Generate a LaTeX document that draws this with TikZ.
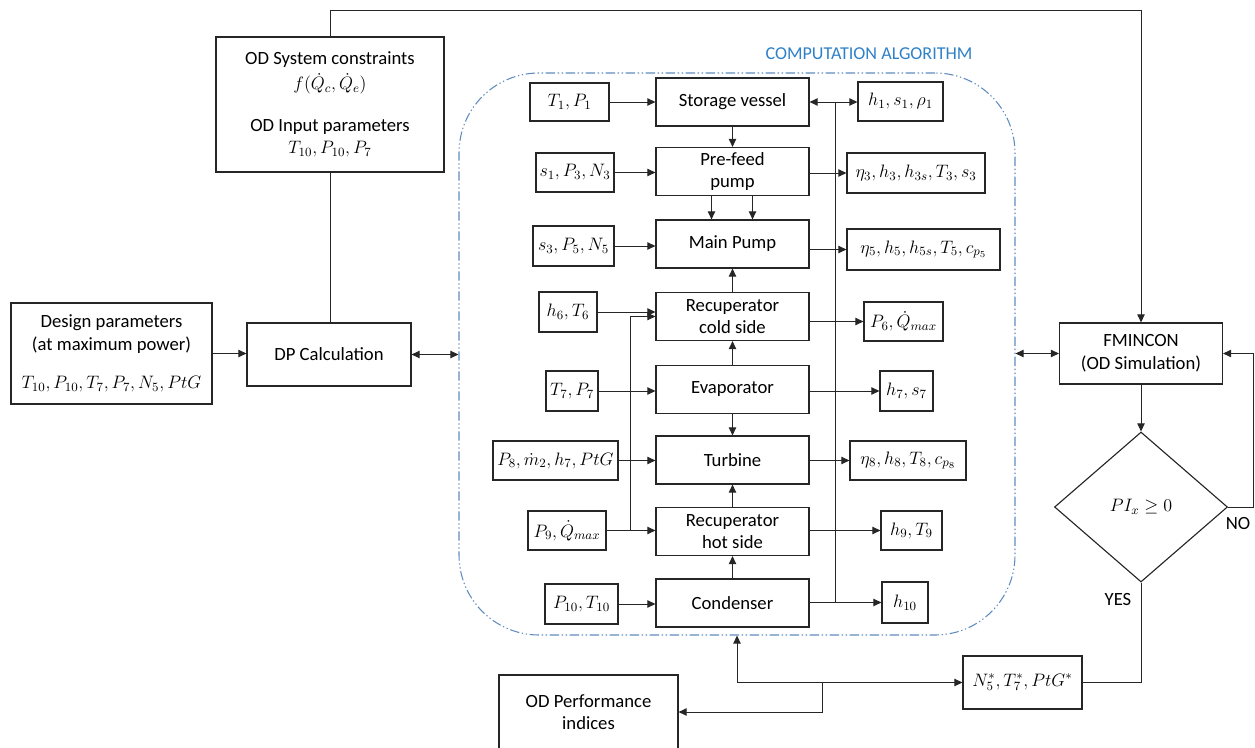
\RequirePackage{fix-cm}
\documentclass[tikz,border=0pt]{standalone}
\usepackage{fontspec}
\setmainfont{Carlito}
\usetikzlibrary{arrows.meta,shapes.geometric,calc}
\definecolor{algblue}{RGB}{46,128,200}
\definecolor{algline}{RGB}{95,140,190}
\definecolor{ink}{RGB}{38,38,38}
\newcommand{\mathsz}{\fontsize{13.5}{15}\selectfont}
\begin{document}
\begin{tikzpicture}[x=0.75pt,y=-0.75pt,
  font=\fontsize{14}{17}\selectfont,
  >={Triangle[length=6pt,width=5.5pt]},
  blk/.style={draw=ink, line width=0.85pt, align=center, inner sep=1pt},
  mbox/.style={blk, font=\mathsz},
  wd/.style={minimum width=#1*0.75pt},
  ht/.style={minimum height=#1*0.75pt},
  conn/.style={draw=ink, line width=0.7pt},
  stage/.style={blk, wd=153, ht=48},
]
\useasboundingbox (0,0) rectangle (1255,748);

% outer blocks
\node[blk, wd=228, ht=135] (od) at (330,104.5)
  {OD System constraints\\[2pt] {\mathsz$f(\dot{Q}_c,\dot{Q}_e)$}\\[14pt]
   OD Input parameters\\[0pt] {\mathsz$T_{10},P_{10},P_7$}};
\node[blk, wd=201, ht=101] (design) at (111.5,353.5)
  {Design parameters\\(at maximum power)\\[12pt] {\mathsz$T_{10},P_{10},T_7,P_7,N_5,PtG$}};
\node[blk, wd=164, ht=63] (dp) at (329,354.5) {DP Calculation};
\node[blk, wd=163, ht=61] (fm) at (1141,353.5) {FMINCON\\(OD Simulation)};
\node[mbox, shape=diamond, wd=173, ht=150, inner sep=0pt] (dia) at (1141,507) {$PI_x\geq 0$};
\node[mbox, wd=119, ht=53] (ns) at (1022.5,682.5) {$N_5^{*},T_7^{*},PtG^{*}$};
\node[blk, wd=179, ht=74] (perf) at (588.5,712) {OD Performance\\indices};

% computation algorithm frame
\node[draw=algline, line width=0.8pt, rounded corners=60pt,
  dash pattern=on 7pt off 2pt on 1pt off 2pt on 1pt off 2pt,
  wd=556, ht=562] (alg) at (737,354) {};
\node[text=algblue, font=\fontsize{13.6}{15}\selectfont] (title) at (869,54) {COMPUTATION ALGORITHM};

% component stages
\node[stage] (sv) at (732.5,102) {Storage vessel};
\node[stage] (pf) at (732.5,171.5) {Pre-feed\\pump};
\node[stage] (mp) at (732.5,244) {Main Pump};
\node[stage] (rc) at (732.5,316.5) {Recuperator\\cold side};
\node[stage] (ev) at (732.5,389.5) {Evaporator};
\node[stage] (tb) at (732.5,460) {Turbine};
\node[stage] (rh) at (732.5,531.5) {Recuperator\\hot side};
\node[stage] (cd) at (732.5,603) {Condenser};

% stage inputs
\node[mbox, wd=79, ht=38] (i1) at (569.5,102) {$T_1,P_1$};
\node[mbox, wd=78, ht=39] (i2) at (575,172.5) {$s_1,P_3,N_3$};
\node[mbox, wd=81, ht=40] (i3) at (573.5,246) {$s_3,P_5,N_5$};
\node[mbox, wd=58, ht=40] (i4) at (568,312) {$h_6,T_6$};
\node[mbox, wd=52, ht=40] (i5) at (572,391) {$T_7,P_7$};
\node[mbox, wd=125, ht=39] (i6) at (555.5,460.5) {$P_8,\dot{m}_2,h_7,PtG$};
\node[mbox, wd=78, ht=39] (i7) at (567,530.5) {$P_9,\dot{Q}_{max}$};
\node[mbox, wd=73, ht=40] (i8) at (581.5,604) {$P_{10},T_{10}$};

% stage outputs
\node[mbox, wd=85, ht=39] (o1) at (900.5,101.5) {$h_1,s_1,\rho_1$};
\node[mbox, wd=138, ht=40] (o2) at (916,173) {$\eta_3,h_3,h_{3s},T_3,s_3$};
\node[mbox, wd=153, ht=41] (o3) at (923.5,249.5) {$\eta_5,h_5,h_{5s},T_5,c_{p_5}$};
\node[mbox, wd=79, ht=39] (o4) at (903.5,321.5) {$P_6,\dot{Q}_{max}$};
\node[mbox, wd=53, ht=40] (o5) at (906.5,391) {$h_7,s_7$};
\node[mbox, wd=116, ht=39] (o6) at (908,460.5) {$\eta_8,h_8,T_8,c_{p_8}$};
\node[mbox, wd=61, ht=39] (o7) at (911.5,530.5) {$h_9,T_9$};
\node[mbox, wd=46, ht=41] (o8) at (905,602.5) {$h_{10}$};

% flow between stages
\draw[conn,->] (sv.south) -- (pf.north);
\draw[conn,->] ($(pf.south)+(-21,0)$) -- ($(mp.north)+(-21,0)$);
\draw[conn,->] ($(pf.south)+(20,0)$) -- ($(mp.north)+(20,0)$);
\draw[conn,->] (rc.north) -- (mp.south);
\draw[conn,->] (ev.north) -- (rc.south);
\draw[conn,->] (ev.south) -- (tb.north);
\draw[conn,->] (rh.north) -- (tb.south);
\draw[conn,->] (cd.north) -- (rh.south);

% inputs into stages
\draw[conn,->] (i1.east) -- (i1.east -| sv.west);
\draw[conn,->] (i2.east) -- (i2.east -| pf.west);
\draw[conn,->] (i3.east) -- (i3.east -| mp.west);
\draw[conn,->] (i4.east) -- (i4.east -| rc.west);
\draw[conn,->] (i5.east) -- (i5.east -| ev.west);
\draw[conn,->] (i6.east) -- (i6.east -| tb.west);
\draw[conn,->] (i7.east) -- (i7.east -| rh.west);
\draw[conn,->] (i8.east) -- (i8.east -| cd.west);
\coordinate (lb) at (630,0);
\draw[conn,->] (i7.east -| lb) -- (rc.west -| lb) -- (rc.west);

% outputs of stages
\coordinate (bus) at (835,0);
\draw[conn] (sv.east -| bus) -- (o8.west -| bus);
\draw[conn,<->] (sv.east) -- (sv.east -| o1.west);
\draw[conn,->] (o2.west -| pf.east) -- (o2.west);
\draw[conn,->] (o3.west -| mp.east) -- (o3.west);
\draw[conn,->] (o4.west -| rc.east) -- (o4.west);
\draw[conn,->] (o5.west -| ev.east) -- (o5.west);
\draw[conn,->] (o6.west -| tb.east) -- (o6.west);
\draw[conn,->] (o7.west -| rh.east) -- (o7.west);
\draw[conn,->] (o8.west -| cd.east) -- (o8.west);

% outer loop
\draw[conn,->] (design.east) -- (design.east -| dp.west);
\draw[conn] (od.south) -- (od.south |- dp.north);
\draw[conn,<->] (dp.east) -- (dp.east -| alg.west);
\draw[conn,<->] (fm.west -| alg.east) -- (fm.west);
\draw[conn,->] (od.north) -- ++(0,-26) -| (fm.north);
\draw[conn,->] (fm.south) -- (dia.north);
\draw[conn,->] (dia.east) -- ++(25,0) |- (fm.east);
\draw[conn] (ns.east) -| (dia.south);
\draw[conn,->] (alg.south |- ns.west) -- (alg.south);
\draw[conn,->] (alg.south |- ns.west) -- (ns.west);
\coordinate (j2) at (822,682.5);
\draw[conn,->] (j2) |- (perf.east);

\node (yes) at (1118,600) {YES};
\node (no) at (1238,524) {NO};
\end{tikzpicture}
\end{document}
